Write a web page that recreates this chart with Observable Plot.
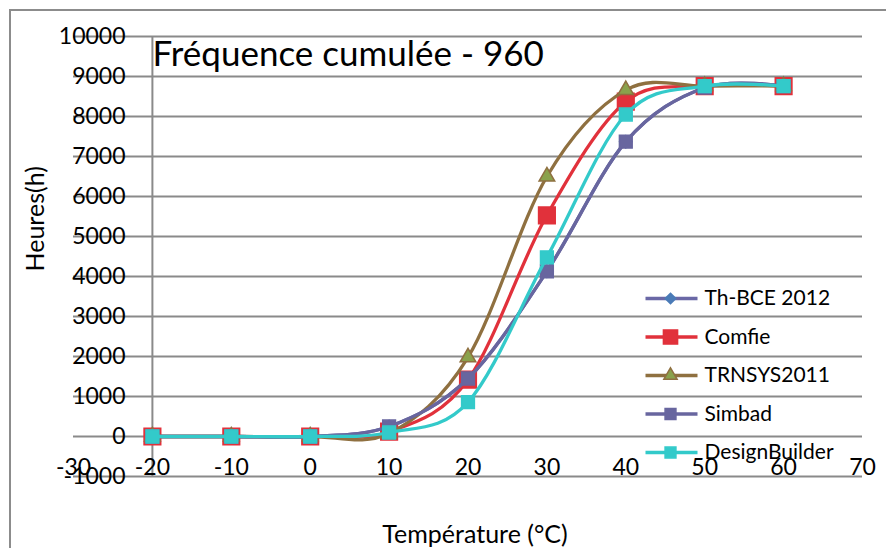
<!DOCTYPE html>
<html>
<head>
<meta charset="utf-8">
<script src="https://cdn.jsdelivr.net/npm/d3@7"></script>
<script src="https://cdn.jsdelivr.net/npm/@observablehq/plot@0.6"></script>
<style>
  html, body { margin: 0; padding: 0; background: white; }
  #wrap { position: relative; width: 886px; height: 548px; overflow: hidden; }
  #border { position: absolute; left: 9px; top: 9px; width: 1000px; height: 1000px;
            border-left: 2px solid #8c8c8c; border-top: 2px solid #8c8c8c; }
  #chart { position: absolute; left: 0; top: 0; }
</style>
</head>
<body>
<div id="wrap"><div id="border"></div><div id="chart"></div></div>
<script>
// ---- data ----
const temps = [-20, -10, 0, 10, 20, 30, 40, 50, 60];
const thBCE = [0, 0, 0, 250, 1450, 4130, 7370, 8720, 8760];
const comfie = [0, 0, 0, 120, 1420, 5530, 8370, 8760, 8760];
const trnsys = [0, 0, 0, 80, 1980, 6500, 8660, 8760, 8760];
const simbad = [0, 0, 0, 250, 1450, 4130, 7370, 8720, 8760];
const designBuilder = [0, 0, 0, 100, 860, 4480, 8050, 8760, 8760];
const seriesNames = ["Th-BCE 2012", "Comfie", "TRNSYS2011", "Simbad", "DesignBuilder"];
const xTicks = [-30, -20, -10, 0, 10, 20, 30, 40, 50, 60, 70];
const yTicks = [-1000, 0, 1000, 2000, 3000, 4000, 5000, 6000, 7000, 8000, 9000, 10000];
const title = "Fréquence cumulée - 960";
const xLabel = "Température (°C)";
const yLabel = "Heures(h)";

// ---- styles ----
const styles = {
  "Th-BCE 2012": {line: "#6a68a6", fill: "#4a7bb7", stroke: "#4a7bb7", symbol: "diamond2", r: 5.6},
  "Comfie": {line: "#e1313b", fill: "#e1313b", stroke: "#e1313b", symbol: "square", r: 9.4},
  "TRNSYS2011": {line: "#8f7040", fill: "#8aa24c", stroke: "#8f7040", symbol: "triangle", r: 5.8},
  "Simbad": {line: "#68669f", fill: "#68669f", stroke: "#68669f", symbol: "square", r: 7.2},
  "DesignBuilder": {line: "#33caca", fill: "#33caca", stroke: "#33caca", symbol: "square", r: 7.2}
};
const values = [thBCE, comfie, trnsys, simbad, designBuilder];
const rows = [];
seriesNames.forEach((name, i) => temps.forEach((t, j) => rows.push({name, t, v: values[i][j]})));

const W = 886, H = 548;
const mL = 73, mR = 24, mT = 36, mB = 72;
const xDomain = [-30, 70], yDomain = [-1000, 10000];
const xs = Plot.scale({x: {domain: xDomain, range: [mL, W - mR]}});
const ys = Plot.scale({y: {domain: yDomain, range: [H - mB, mT]}});
const font = "Lato, 'Open Sans', sans-serif";

// legend layout (pixels) converted via the scales
const leg = {x1: 645, x2: 697, xm: 670, xt: 704, y0: 298, step: 38.5};
const legendRows = seriesNames.map((name, i) => ({
  name,
  x1: xs.invert(leg.x1), x2: xs.invert(leg.x2), xm: xs.invert(leg.xm), xt: xs.invert(leg.xt),
  y: ys.invert(leg.y0 + i * leg.step)
}));

const marks = [
  Plot.ruleY(yTicks, {stroke: "#8a8a8a", strokeWidth: 2}),
  Plot.ruleX([-20], {stroke: "#8a8a8a", strokeWidth: 2}),
  Plot.text(yTicks, {y: d => d, text: d => String(d), frameAnchor: "left", textAnchor: "end", dx: 52, fontSize: 23, fill: "black"}),
  Plot.text(xTicks, {x: d => d, text: d => String(d), frameAnchor: "bottom", dy: -2, fontSize: 23, fill: "black"}),
  Plot.text([title], {frameAnchor: "top-left", dx: 79, dy: 29, lineAnchor: "bottom", textAnchor: "start", fontSize: 35, fill: "black"}),
  Plot.text([xLabel], {frameAnchor: "bottom", dx: 7, dy: 66, lineAnchor: "bottom", fontSize: 25, fill: "black"}),
  Plot.text([yLabel], {frameAnchor: "left", dx: -30, dy: 15, rotate: -90, lineAnchor: "bottom", fontSize: 25, fill: "black"})
];

seriesNames.forEach(name => {
  const s = styles[name];
  const d = rows.filter(r => r.name === name);
  marks.push(Plot.line(d, {x: "t", y: "v", stroke: s.line, strokeWidth: 3.3, curve: "cardinal"}));
  marks.push(Plot.dot(d, {x: "t", y: "v", symbol: () => s.symbol, r: s.r, fill: s.fill, stroke: s.stroke, strokeWidth: 1.5}));
});

legendRows.forEach(row => {
  const s = styles[row.name];
  marks.push(Plot.link([row], {x1: "x1", x2: "x2", y1: "y", y2: "y", stroke: s.line, strokeWidth: 3.3}));
  marks.push(Plot.dot([row], {x: "xm", y: "y", symbol: () => s.symbol, r: s.r * 0.85, fill: s.fill, stroke: s.stroke, strokeWidth: 1.5}));
  marks.push(Plot.text([row], {x: "xt", y: "y", text: "name", textAnchor: "start", fontSize: 21, fill: "black"}));
});

const chart = Plot.plot({
  width: W, height: H,
  marginLeft: mL, marginRight: mR, marginTop: mT, marginBottom: mB,
  x: {domain: xDomain, axis: null},
  y: {domain: yDomain, axis: null},
  symbol: {type: "identity"},
  style: {fontFamily: font, background: "transparent", overflow: "visible"},
  marks
});
document.getElementById("chart").appendChild(chart);
</script>
</body>
</html>
